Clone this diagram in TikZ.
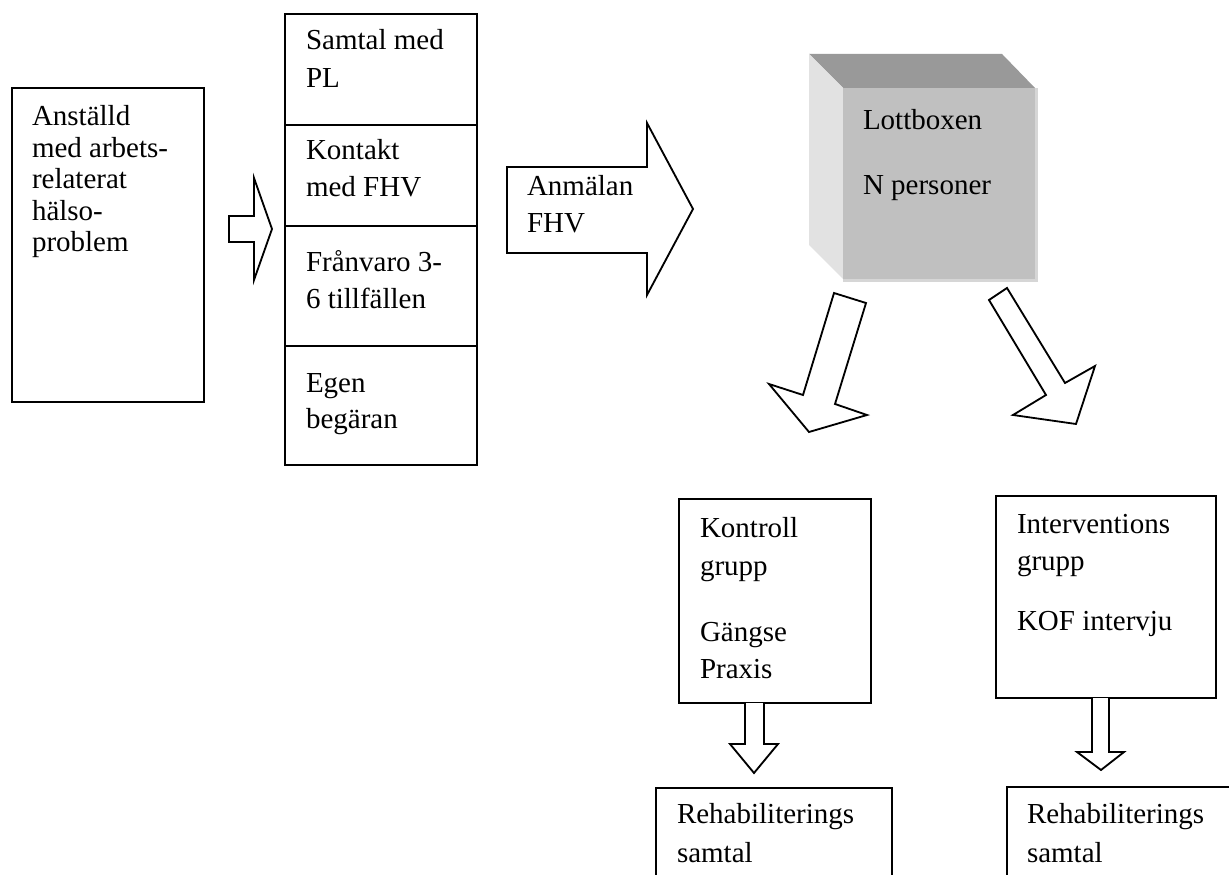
\documentclass[tikz,border=0pt]{standalone}
\usepackage{fontspec}
\setmainfont{Liberation Serif}
\definecolor{cubetop}{RGB}{153,153,153}
\definecolor{cubefront}{RGB}{192,192,192}
\definecolor{cubeside}{RGB}{226,226,226}
\definecolor{cubeedge}{RGB}{214,214,214}
\begin{document}
\begin{tikzpicture}[x=0.6pt,y=-0.6pt,
  box/.style={draw=black,line width=1.1pt},
  blk/.style={draw=black,line width=1.1pt,fill=white,line join=miter},
  lbl/.style={anchor=base west,inner sep=0pt,outer sep=0pt,font=\fontsize{17.4}{20}\selectfont}]
\clip (0,0) rectangle (1229,875);
\fill[white] (0,0) rectangle (1229,875);

% left box
\coordinate (anstNW) at (12,88); \coordinate (anstSE) at (204,402);
\draw[box] (anstNW) rectangle (anstSE);
\node[lbl] (a1) at (32,126) {Anställd};
\node[lbl] (a2) at (32,157.5) {med arbets-};
\node[lbl] (a3) at (32,189) {relaterat};
\node[lbl] (a4) at (32,220.5) {hälso-};
\node[lbl] (a5) at (32,252) {problem};

% small arrow
\draw[blk] (229,216) -- (254,216) -- (254,178) -- (272,229) -- (254,280) -- (254,242) -- (229,242) -- cycle;

% column of reasons
\coordinate (colNW) at (285,14); \coordinate (colSE) at (477,465);
\draw[box] (colNW) rectangle (colSE);
\draw[box] (285,125) -- (477,125);
\draw[box] (285,226) -- (477,226);
\draw[box] (285,346) -- (477,346);
\node[lbl] (c1) at (306,50) {Samtal med};
\node[lbl] (c2) at (306,88) {PL};
\node[lbl] (c3) at (306,160) {Kontakt};
\node[lbl] (c4) at (306,197) {med FHV};
\node[lbl] (c5) at (306,272) {Frånvaro 3-};
\node[lbl] (c6) at (306,309) {6 tillfällen};
\node[lbl] (c7) at (306,393) {Egen};
\node[lbl] (c8) at (306,429) {begäran};

% Anmälan arrow
\draw[blk] (507,167) -- (647,167) -- (647,123) -- (693,209) -- (647,295) -- (647,253) -- (507,253) -- cycle;
\node[lbl] (m1) at (527,196) {Anmälan};
\node[lbl] (m2) at (527,233) {FHV};

% cube
\fill[cubetop] (809,54) -- (1002,54) -- (1035,88) -- (843,88) -- cycle;
\fill[cubeside] (809,54) -- (843,88) -- (843,279) -- (809,245) -- cycle;
\fill[cubefront] (843,88) rectangle (1035,279);
\fill[cubeedge] (1035,88) rectangle (1038,282);
\fill[cubeedge] (843,279) rectangle (1038,282);
\node[lbl] (l1) at (863,130) {Lottboxen};
\node[lbl] (l2) at (863,195) {N personer};

% diagonal arrows
\draw[blk] (834,293) -- (866,303) -- (835,404) -- (867,415) -- (809,432) -- (769,384) -- (803,395) -- cycle;
\draw[blk] (989,300) -- (1007,288) -- (1065,383) -- (1095,366) -- (1076,424) -- (1013,415) -- (1046,395) -- cycle;

% Kontroll group
\coordinate (konNW) at (679,499); \coordinate (konSE) at (871,703);
\draw[box] (konNW) rectangle (konSE);
\node[lbl] (k1) at (700,537) {Kontroll};
\node[lbl] (k2) at (700,575) {grupp};
\node[lbl] (k3) at (700,641) {Gängse};
\node[lbl] (k4) at (700,678) {Praxis};
\draw[blk] (745,703) -- (745,744) -- (730,744) -- (754,773) -- (778,744) -- (764,744) -- (764,703);

% Interventions group
\coordinate (intNW) at (996,496); \coordinate (intSE) at (1216,698);
\draw[box] (intNW) rectangle (intSE);
\node[lbl] (i1) at (1017,533) {Interventions};
\node[lbl] (i2) at (1017,570) {grupp};
\node[lbl] (i3) at (1017,630) {KOF intervju};
\draw[blk] (1092,698) -- (1092,752) -- (1077,752) -- (1101,770) -- (1124,752) -- (1109,752) -- (1109,698);

% Rehab boxes
\draw[box] (656,900) -- (656,788) -- (892,788) -- (892,900);
\node[lbl] (r1) at (677,823) {Rehabiliterings};
\node[lbl] (r2) at (677,862) {samtal};
\draw[box] (1007,900) -- (1007,787) -- (1260,787);
\node[lbl] (s1) at (1027,823) {Rehabiliterings};
\node[lbl] (s2) at (1027,862) {samtal};
\end{tikzpicture}
\end{document}
